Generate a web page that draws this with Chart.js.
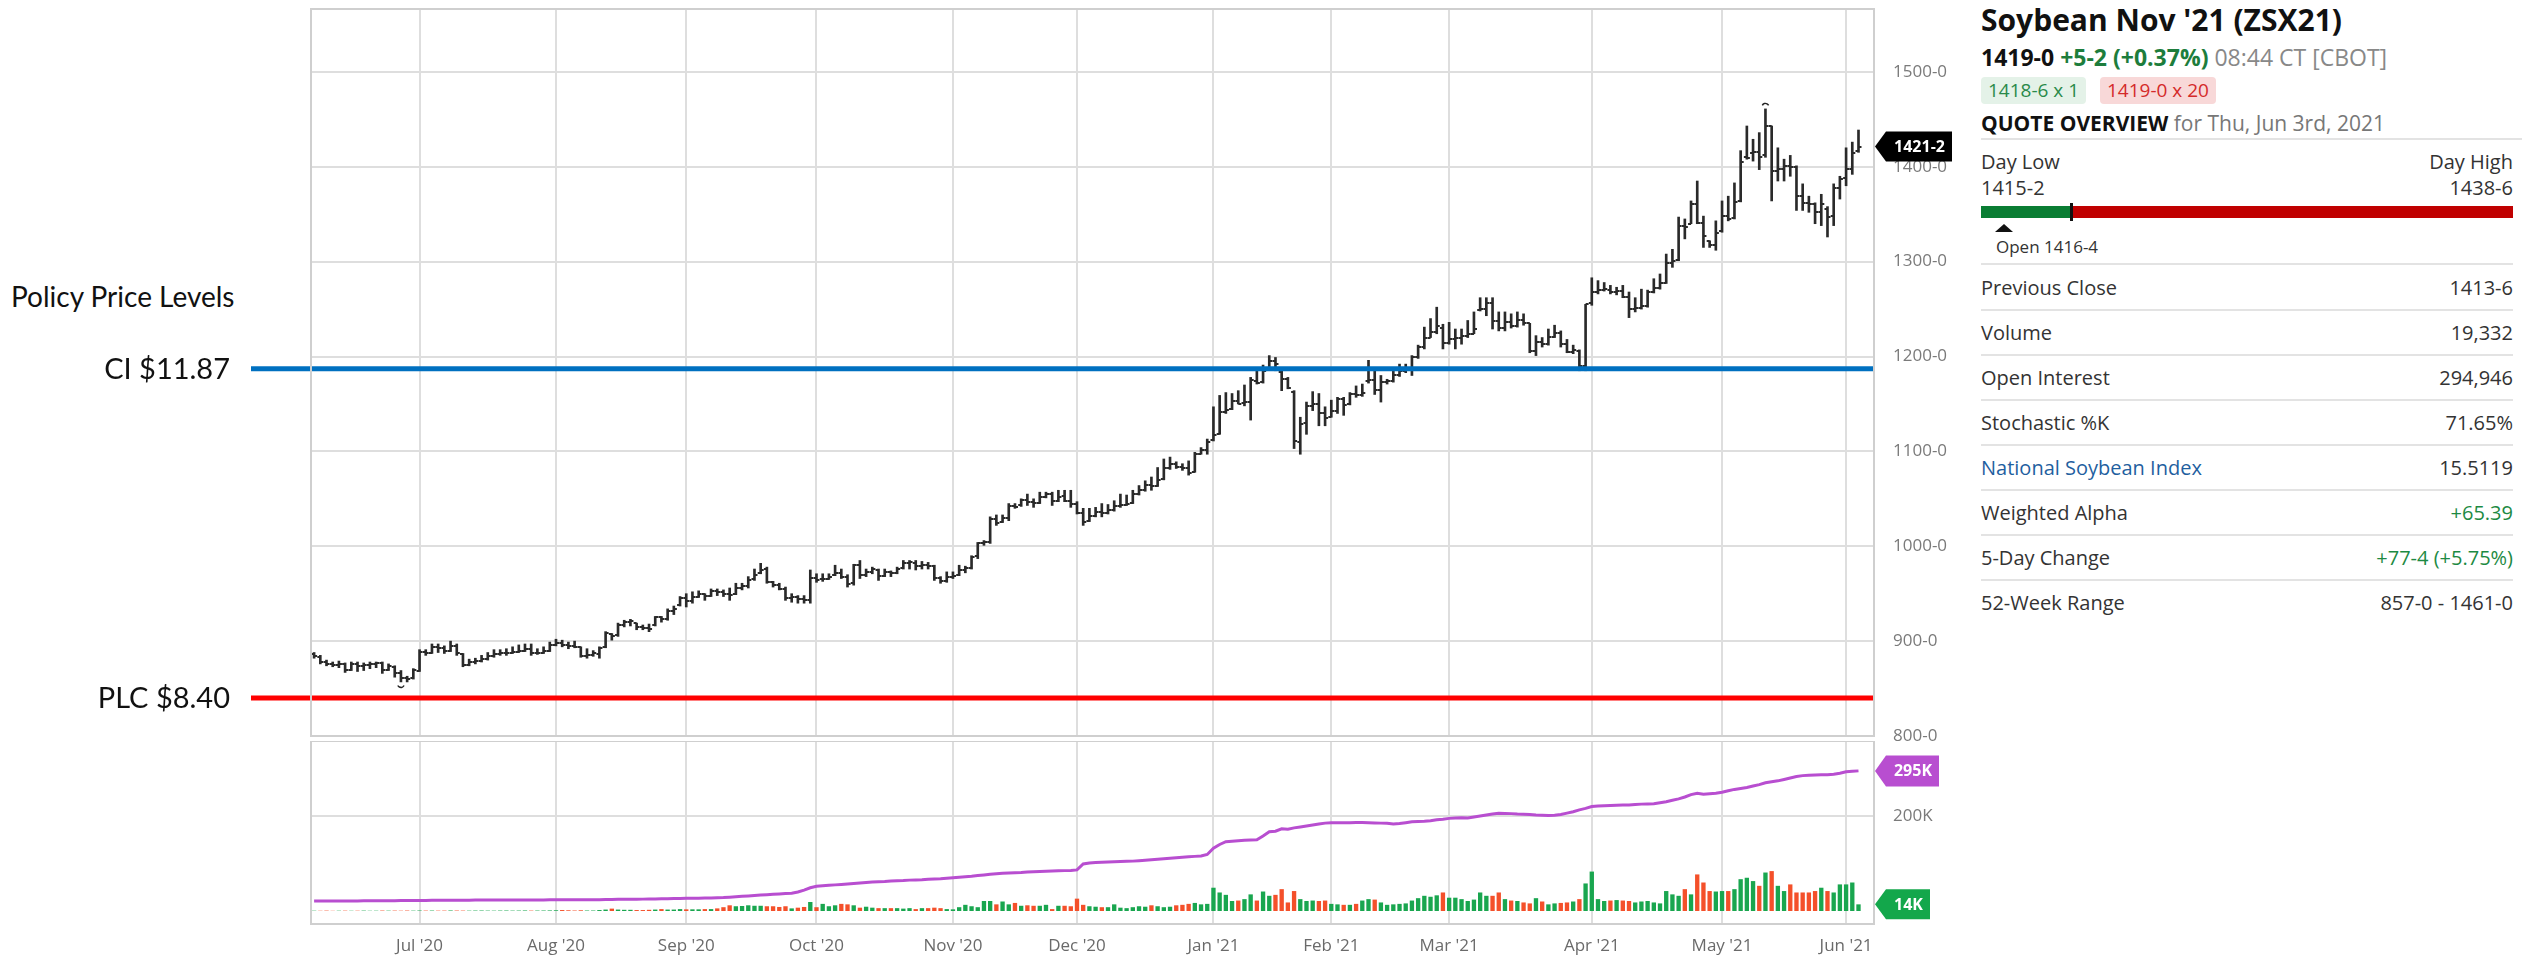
<!DOCTYPE html>
<html>
<head>
<meta charset="utf-8">
<script src="https://cdn.jsdelivr.net/npm/chart.js@4.4.1/dist/chart.umd.min.js"></script>
<style>
html, body { margin: 0; padding: 0; background: #fff; }
body { width: 2522px; height: 962px; position: relative; overflow: hidden; font-family: 'Open Sans', sans-serif; }
#priceBox { position: absolute; left: 0; top: 0; width: 1960px; height: 741px; }
#volBox { position: absolute; left: 0; top: 741px; width: 1960px; height: 221px; }
.policy-title { position: absolute; left: 11px; top: 279px; font: 28px Lato, sans-serif; color: #111; white-space: nowrap; }
#quote { position: absolute; left: 1981px; top: 0; width: 532px; color: #333; }
#quote div { position: absolute; white-space: nowrap; }
.title { top: 0px; left: 0; font-size: 30px; font-weight: 700; color: #111; line-height: 40px; }
.last { top: 42px; left: 0; font-size: 23px; line-height: 30px; }
.last b { color: #111; }
.last .chg { color: #1d7d3c; font-weight: 700; }
.last .time { color: #888; }
.badge { top: 77px; height: 27px; line-height: 27px; font-size: 19px; padding: 0 7px; border-radius: 4px; }
.bid { left: 0; background: #e4f2e8; color: #2a8a4a; }
.ask { left: 119px; background: #f8d8d8; color: #d42a2a; }
.qo { top: 108px; left: 0; font-size: 21px; line-height: 30px; color: #777; }
.qo b { color: #111; }
.sep { left: 0; width: 532px; height: 2px; background: #e3e3e3; }
.lbl { font-size: 20px; line-height: 30px; color: #333; }
.rt { right: 0; text-align: right; }
.bar-g { top: 206px; left: 0; width: 91px; height: 12px; background: #0a7d33; }
.bar-r { top: 206px; left: 91px; width: 441px; height: 12px; background: #c00000; }
.bar-m { top: 203px; left: 89px; width: 3px; height: 18px; background: #111; }
.tri { top: 224px; left: 14px; width: 0; height: 0; border-left: 9px solid transparent; border-right: 9px solid transparent; border-bottom: 8px solid #111; }
.open { top: 235px; left: 15px; font-size: 17px; line-height: 24px; color: #333; }
.row { left: 0; width: 532px; font-size: 20px; line-height: 30px; color: #333; }
.row span:last-child { position: absolute; right: 0; }
.blue { color: #1f5fa0; }
.green { color: #1d8a43; }
</style>
</head>
<body>
<div class="policy-title">Policy Price Levels</div>
<div id="priceBox"><canvas id="priceChart" width="1960" height="741"></canvas></div>
<div id="volBox"><canvas id="volChart" width="1960" height="221"></canvas></div>

<div id="quote">
  <div class="title">Soybean Nov '21 (ZSX21)</div>
  <div class="last"><b>1419-0</b> <span class="chg">+5-2 (+0.37%)</span> <span class="time">08:44 CT [CBOT]</span></div>
  <div class="badge bid">1418-6 x 1</div>
  <div class="badge ask">1419-0 x 20</div>
  <div class="qo"><b>QUOTE OVERVIEW</b> for Thu, Jun 3rd, 2021</div>
  <div class="sep" style="top:138px;width:541px"></div>
  <div class="lbl" style="top:147px;left:0">Day Low</div>
  <div class="lbl rt" style="top:147px">Day High</div>
  <div class="lbl" style="top:173px;left:0">1415-2</div>
  <div class="lbl rt" style="top:173px">1438-6</div>
  <div class="bar-g"></div>
  <div class="bar-r"></div>
  <div class="bar-m"></div>
  <div class="tri"></div>
  <div class="open">Open 1416-4</div>
  <div class="sep" style="top:263px"></div>
  <div class="row" style="top:273px"><span>Previous Close</span><span>1413-6</span></div>
  <div class="sep" style="top:309px"></div>
  <div class="row" style="top:318px"><span>Volume</span><span>19,332</span></div>
  <div class="sep" style="top:354px"></div>
  <div class="row" style="top:363px"><span>Open Interest</span><span>294,946</span></div>
  <div class="sep" style="top:399px"></div>
  <div class="row" style="top:408px"><span>Stochastic %K</span><span>71.65%</span></div>
  <div class="sep" style="top:444px"></div>
  <div class="row" style="top:453px"><span class="blue">National Soybean Index</span><span>15.5119</span></div>
  <div class="sep" style="top:489px"></div>
  <div class="row" style="top:498px"><span>Weighted Alpha</span><span class="green">+65.39</span></div>
  <div class="sep" style="top:534px"></div>
  <div class="row" style="top:543px"><span>5-Day Change</span><span class="green">+77-4 (+5.75%)</span></div>
  <div class="sep" style="top:579px"></div>
  <div class="row" style="top:588px"><span>52-Week Range</span><span>857-0 - 1461-0</span></div>
</div>

<script>
// trading sessions, grouped by month (last two June days are empty slots)
const months = ['2020-06', '2020-07', '2020-08', '2020-09', '2020-10', '2020-11', '2020-12',
                '2021-01', '2021-02', '2021-03', '2021-04', '2021-05', '2021-06'];
const monthDays = [
    [8, 9, 10, 11, 12, 15, 16, 17, 18, 19, 22, 23, 24, 25, 26, 29, 30],
    [1, 2, 6, 7, 8, 9, 10, 13, 14, 15, 16, 17, 20, 21, 22, 23, 24, 27, 28, 29, 30, 31],
    [3, 4, 5, 6, 7, 10, 11, 12, 13, 14, 17, 18, 19, 20, 21, 24, 25, 26, 27, 28, 31],
    [1, 2, 3, 4, 8, 9, 10, 11, 14, 15, 16, 17, 18, 21, 22, 23, 24, 25, 28, 29, 30],
    [1, 2, 5, 6, 7, 8, 9, 12, 13, 14, 15, 16, 19, 20, 21, 22, 23, 26, 27, 28, 29, 30],
    [2, 3, 4, 5, 6, 9, 10, 11, 12, 13, 16, 17, 18, 19, 20, 23, 24, 25, 27, 30],
    [1, 2, 3, 4, 7, 8, 9, 10, 11, 14, 15, 16, 17, 18, 21, 22, 23, 24, 28, 29, 30, 31],
    [4, 5, 6, 7, 8, 11, 12, 13, 14, 15, 19, 20, 21, 22, 25, 26, 27, 28, 29],
    [1, 2, 3, 4, 5, 8, 9, 10, 11, 12, 16, 17, 18, 19, 22, 23, 24, 25, 26],
    [1, 2, 3, 4, 5, 8, 9, 10, 11, 12, 15, 16, 17, 18, 19, 22, 23, 24, 25, 26, 29, 30, 31],
    [1, 5, 6, 7, 8, 9, 12, 13, 14, 15, 16, 19, 20, 21, 22, 23, 26, 27, 28, 29, 30],
    [3, 4, 5, 6, 7, 10, 11, 12, 13, 14, 17, 18, 19, 20, 21, 24, 25, 26, 27, 28],
    [1, 2, 3, 4, 7]
];
const monthNames = ['Jan', 'Feb', 'Mar', 'Apr', 'May', 'Jun', 'Jul', 'Aug', 'Sep', 'Oct', 'Nov', 'Dec'];

// daily bars [open, high, low, close], cents/bu
const ohlc = [
    // Jun 2020
    [886,888,882,884],[883,885,876,878],[878,880,874,876],[876,878,873,875],[875,879,872,876],
    [876,877,867,870],[870,878,869,876],[876,878,868,874],[874,877,869,875],[875,878,871,876],
    [876,878,872,877],[877,878,866,870],[870,876,869,874],[873,874,862,866],[866,869,857,861],
    [861,863,857,860],[861,871,860,870],
    // Jul
    [869,891,868,889],[889,891,885,887],[888,897,887,894],[894,897,888,893],[893,895,887,890],
    [890,900,889,895],[895,897,885,887],[886,887,873,875],[875,881,874,878],[878,882,876,879],
    [879,885,878,881],[881,888,880,884],[884,891,883,886],[886,891,885,887],[887,892,885,888],
    [888,894,887,889],[889,896,888,890],[890,897,889,892],[892,897,885,887],[887,892,886,888],
    [888,894,887,890],[890,899,889,896],
    // Aug
    [896,902,895,898],[898,901,894,896],[896,899,892,895],[895,900,893,894],[894,894,883,884],
    [884,892,882,885],[885,890,884,887],[886,894,882,893],[894,910,893,909],[908,908,901,905],
    [906,919,905,917],[917,922,915,920],[920,923,916,921],[919,919,912,915],[915,917,912,914],
    [914,918,910,913],[917,926,916,925],[925,926,920,923],[923,934,922,932],[932,937,928,934],
    [938,947,937,945],
    // Sep
    [945,950,936,942],[942,952,940,947],[947,953,946,950],[950,950,943,948],[948,955,947,953],
    [953,955,948,952],[952,954,947,950],[950,956,943,949],[950,961,949,956],[956,961,954,958],
    [958,968,956,964],[966,976,964,970],[972,982,971,975],[976,978,961,962],[962,963,957,959],
    [959,961,954,955],[955,957,943,945],[945,950,941,946],[946,948,940,944],[944,948,940,943],
    [943,975,940,967],
    // Oct
    [967,971,962,964],[965,971,963,966],[966,971,965,968],[970,980,969,972],[972,976,966,968],
    [968,970,957,960],[961,981,959,980],[980,985,966,970],[970,976,968,973],[973,978,971,976],
    [975,976,964,969],[969,976,968,973],[973,974,968,972],[972,978,971,976],[977,985,976,982],
    [982,985,976,983],[982,985,975,979],[979,984,976,980],[980,983,976,979],[979,980,964,967],
    [967,968,961,963],[963,973,962,968],
    // Nov
    [968,973,966,969],[970,980,969,975],[975,979,972,977],[977,990,976,989],[990,1004,987,1003],
    [1003,1006,1001,1004],[1004,1031,1003,1029],[1029,1033,1022,1025],[1026,1033,1025,1030],[1030,1045,1027,1042],
    [1042,1045,1040,1041],[1043,1050,1042,1049],[1049,1055,1043,1047],[1047,1050,1041,1046],[1046,1057,1045,1052],
    [1052,1057,1051,1055],[1055,1057,1043,1048],[1048,1059,1047,1052],[1053,1059,1047,1048],[1048,1059,1041,1045],
    // Dec
    [1045,1047,1034,1035],[1035,1040,1022,1026],[1027,1040,1026,1032],[1032,1041,1031,1036],[1036,1045,1031,1035],
    [1035,1044,1034,1038],[1038,1048,1037,1042],[1042,1055,1041,1044],[1044,1054,1043,1045],[1046,1059,1045,1055],
    [1055,1064,1054,1059],[1059,1069,1058,1065],[1065,1073,1059,1064],[1064,1083,1063,1070],[1071,1092,1070,1082],
    [1082,1094,1081,1087],[1087,1089,1082,1084],[1084,1087,1080,1082],[1083,1090,1075,1077],[1078,1099,1078,1097],
    [1097,1104,1097,1101],[1101,1113,1097,1110],
    // Jan 2021
    [1112,1147,1111,1117],[1118,1159,1118,1141],[1141,1162,1140,1144],[1145,1161,1144,1153],[1153,1164,1150,1150],
    [1151,1170,1148,1152],[1152,1178,1133,1175],[1174,1185,1171,1172],[1173,1191,1172,1185],[1188,1201,1187,1195],
    [1195,1199,1185,1192],[1184,1185,1164,1176],[1176,1178,1166,1167],[1163,1164,1103,1111],[1110,1136,1097,1129],
    [1130,1152,1118,1148],[1148,1163,1143,1150],[1150,1161,1127,1140],[1140,1147,1127,1135],
    // Feb
    [1136,1154,1136,1143],[1143,1157,1140,1155],[1155,1157,1138,1149],[1150,1162,1149,1160],[1160,1169,1157,1159],
    [1159,1171,1158,1162],[1174,1196,1172,1175],[1175,1187,1160,1165],[1165,1180,1152,1173],[1173,1176,1171,1174],
    [1174,1185,1173,1180],[1180,1192,1179,1185],[1185,1192,1183,1187],[1187,1201,1180,1199],[1199,1212,1198,1210],
    [1210,1231,1208,1220],[1220,1240,1220,1226],[1226,1252,1224,1232],[1230,1234,1208,1214],
    // Mar
    [1214,1236,1213,1218],[1218,1229,1208,1219],[1219,1229,1213,1222],[1222,1238,1220,1224],[1224,1247,1224,1229],
    [1249,1262,1248,1250],[1250,1262,1243,1256],[1256,1262,1229,1237],[1237,1247,1227,1230],[1230,1247,1227,1236],
    [1236,1245,1230,1232],[1232,1247,1231,1238],[1238,1245,1233,1235],[1235,1235,1204,1206],[1206,1222,1201,1215],
    [1215,1220,1210,1213],[1213,1229,1212,1221],[1221,1233,1220,1225],[1225,1227,1210,1213],[1213,1218,1204,1205],
    [1205,1212,1203,1207],[1206,1207,1185,1190],[1190,1255,1185,1255],
    // Apr
    [1256,1283,1254,1268],[1268,1280,1266,1270],[1270,1278,1269,1271],[1270,1275,1266,1268],[1268,1273,1265,1269],
    [1269,1275,1262,1263],[1263,1268,1241,1250],[1250,1262,1247,1251],[1251,1271,1250,1253],[1253,1270,1252,1268],
    [1268,1282,1267,1272],[1272,1287,1271,1278],[1278,1308,1277,1299],[1299,1313,1294,1301],[1302,1347,1301,1338],
    [1338,1345,1324,1336],[1340,1364,1340,1361],[1361,1385,1340,1341],[1341,1348,1315,1327],[1322,1322,1315,1318],
    [1318,1343,1312,1330],
    // May
    [1332,1364,1331,1348],[1348,1369,1343,1345],[1346,1383,1345,1363],[1364,1417,1363,1405],[1410,1443,1408,1409],
    [1415,1429,1406,1416],[1416,1436,1397,1410],[1412,1461,1410,1443],[1443,1443,1364,1396],[1396,1420,1385,1398],
    [1398,1408,1385,1401],[1401,1412,1390,1400],[1400,1401,1354,1369],[1369,1382,1354,1362],[1362,1369,1352,1361],
    [1361,1362,1340,1352],[1352,1371,1338,1361],[1355,1358,1326,1347],[1348,1382,1338,1378],[1378,1390,1366,1387],
    // Jun
    [1388,1420,1380,1398],[1398,1426,1392,1415],[1416.5,1438.75,1415.25,1421.25]
];

// daily volume, thousands of contracts
const volumeK = [
    0.6,0.5,0.8,0.4,0.6,0.7,0.5,0.6,0.8,0.5,0.6,0.9,0.7,0.8,0.6,0.9,0.7,
    1.0,0.8,0.9,0.7,0.8,1.1,0.9,0.8,0.7,0.9,1.0,0.8,0.7,0.9,1.0,0.8,0.9,1.1,0.8,0.9,1.0,1.2,
    1.5,2,1.5,1,1.5,1,1,2,3,5,3,2.5,2.5,2,2,2.5,3,4,3,3,4,
    3.5,3.5,3.5,4,4,5.5,8,12,10,10.5,12,11,11,10,10,8.5,10,5.5,7,8.5,19,
    8,15,10,12,15,14,12,7,9,7,6,6,6,6,5,6,4,6,6,7,6,4,
    3.5,8,13,10,8,21,21,14,20,14,17,11,12,11,11,13,4,11,11,10,
    26,13,10,9,8,8,14,7,6,8,10,9,12,10,8,9,12,13,15,17,14,15,
    49,39,34,21,22,25,35,22,41,32,34,46,18,42,25,21,22,21,22,
    15,14,13,13,15,22,25,24,18,13,14,15,16,22,27,32,30,33,39,
    28,28,25,21,24,39,32,32,39,25,22,21,18,16,27,20,14,16,17,18,20,25,58,
    83,25,21,22,23,22,21,18,20,21,18,16,42,35,32,46,35,77,60,42,41,
    42,42,46,67,70,63,53,81,84,53,42,56,39,39,39,42,49,42,39,56,
    56,60,14
];

// open interest, thousands of contracts
const openInterestK = [
    20.8,20.9,21.0,21.0,21.1,21.2,21.2,21.3,21.4,21.4,21.5,21.6,21.7,21.8,21.9,22.0,22.1,
    22.2,22.3,22.4,22.5,22.6,22.6,22.7,22.8,22.8,22.9,23.0,23.0,23.0,23.1,23.1,23.2,23.2,23.2,23.3,23.3,23.4,23.5,
    23.5,23.6,23.6,23.7,23.7,23.8,23.8,23.9,24.1,24.4,24.5,24.6,24.8,24.9,25.0,25.2,25.4,25.7,25.9,26.1,26.4,
    26.6,26.8,27.0,27.2,27.5,27.8,28.3,29.1,30.0,30.8,31.6,32.5,33.6,34.4,35.2,36.0,36.6,37.4,40,44,49,
    52,53,54,55,56,57,58,59,60,61,61.5,62,63,63.5,64,65,65.5,66,67,67.5,68,69,
    70,71,72,73,74.5,76,77.5,78.5,79.5,80,80.5,81,82,82.5,83,83.5,84,84.5,85,85.5,
    86.5,99,101,102,102.5,103,103.5,104,104.5,105,106,107,108,109,110,111,112,113,114,115,116,119,
    132,140,146,147,148,149,149.5,150,158,167,168,173,172,175,177,179,181,183,185,
    186,186,186,186,186.5,186.5,186,185.5,185,184.5,183,184,186,188,188.5,189,190,192,193,
    195,196,196.5,196,198,200,202,204,206,205.5,205,204,203.5,203,202,201.5,201,201.5,203,206,209,213,216,
    220,221,221.5,222,222.5,223,223,224,225,225.5,226,228,230,233,236,240,245,248,246,247,248,
    250,253,256,258,260,263,266,270,272,274,277,280,283,285,286,286.5,287,287,288,290,
    293,294,295
];

const priceTicks = [800, 900, 1000, 1100, 1200, 1300, 1400, 1500];
const volumeTicks = [200];
const policyLevels = [1187, 840];
const policyLabels = ['CI $11.87', 'PLC $8.40'];
const policyColors = ['#0070c0', '#ff0000'];

// build category labels
const labels = [];
const monthStarts = [];
months.forEach((m, i) => {
    if (i > 0) monthStarts.push(labels.length);
    monthDays[i].forEach(d => labels.push(m + '-' + String(d).padStart(2, '0')));
});

function monthLabel(s) {
    const parts = s.split('-');
    return monthNames[Number(parts[1]) - 1] + " '" + parts[0].slice(2);
}

function fmtEighths(v) {
    const whole = Math.floor(v);
    return whole + '-' + Math.round((v - whole) * 8);
}

const closes = ohlc.map(d => d[3]);
const highs = ohlc.map(d => d[1]);
const lows = ohlc.map(d => d[2]);
const volColors = volumeK.map((v, i) => {
    if (i === 0 || closes[i] > closes[i - 1]) return '#19a64f';
    if (closes[i] < closes[i - 1]) return '#f4502a';
    return '#2f55d4';
});

// small tick images for open (left) and close (right)
function tickImage(side) {
    const c = document.createElement('canvas');
    c.width = 10; c.height = 2;
    const g = c.getContext('2d');
    g.fillStyle = '#2a2a2a';
    if (side === 'left') g.fillRect(2, 0, 3, 2);
    else g.fillRect(5, 0, 3, 2);
    return c;
}

Chart.defaults.font.family = "'Open Sans', sans-serif";
Chart.defaults.animation = false;
Chart.defaults.events = [];

const gridColor = '#dedede';

const framePlugin = {
    id: 'frame',
    afterDraw(chart) {
        const { ctx, chartArea } = chart;
        ctx.save();
        ctx.strokeStyle = '#cfcfcf';
        ctx.lineWidth = 2;
        ctx.strokeRect(chartArea.left, chartArea.top, chartArea.right - chartArea.left, chartArea.bottom - chartArea.top);
        ctx.restore();
    }
};

function drawTag(ctx, x, y, text, bg, w, h) {
    ctx.save();
    ctx.fillStyle = bg;
    ctx.beginPath();
    ctx.moveTo(x, y);
    ctx.lineTo(x + 11, y - h / 2);
    ctx.lineTo(x + w, y - h / 2);
    ctx.lineTo(x + w, y + h / 2);
    ctx.lineTo(x + 11, y + h / 2);
    ctx.closePath();
    ctx.fill();
    ctx.fillStyle = '#fff';
    ctx.font = "bold 16px 'Open Sans'";
    ctx.textAlign = 'center';
    ctx.textBaseline = 'middle';
    ctx.fillText(text, x + 6 + w / 2, y + 1);
    ctx.restore();
}

const policyPlugin = {
    id: 'policyLines',
    afterDatasetsDraw(chart) {
        const { ctx, chartArea, scales } = chart;
        ctx.save();
        // 52-week high / low markers
        const hi = highs.indexOf(Math.max(...highs));
        const lo = lows.indexOf(Math.min(...lows));
        ctx.strokeStyle = '#222';
        ctx.lineWidth = 1.5;
        ctx.beginPath();
        ctx.arc(scales.x.getPixelForValue(hi), scales.y.getPixelForValue(highs[hi]) - 2, 3.5, 1.15 * Math.PI, 1.85 * Math.PI);
        ctx.stroke();
        ctx.beginPath();
        ctx.arc(scales.x.getPixelForValue(lo), scales.y.getPixelForValue(lows[lo]) + 2, 3.5, 0.15 * Math.PI, 0.85 * Math.PI);
        ctx.stroke();

        policyLevels.forEach((lvl, i) => {
            const y = scales.y.getPixelForValue(lvl);
            ctx.strokeStyle = policyColors[i];
            ctx.lineWidth = 5;
            ctx.beginPath();
            ctx.moveTo(chartArea.left - 60, y);
            ctx.lineTo(chartArea.right, y);
            ctx.stroke();
            ctx.fillStyle = '#111';
            ctx.font = '29px Lato';
            ctx.textAlign = 'right';
            ctx.textBaseline = 'middle';
            ctx.fillText(policyLabels[i], chartArea.left - 81, y + 1);
        });
        ctx.restore();
    },
    afterDraw(chart) {
        const last = closes[closes.length - 1];
        drawTag(chart.ctx, chart.chartArea.right + 1, chart.scales.y.getPixelForValue(last), fmtEighths(last), '#000', 77, 30);
    }
};

const volTagPlugin = {
    id: 'volTags',
    afterDraw(chart) {
        const y = chart.scales.y;
        const x = chart.chartArea.right + 1;
        const oi = openInterestK[openInterestK.length - 1];
        const vol = volumeK[volumeK.length - 1];
        drawTag(chart.ctx, x, y.getPixelForValue(oi), Math.round(oi) + 'K', '#b84ed0', 64, 31);
        drawTag(chart.ctx, x, y.getPixelForValue(vol), Math.round(vol) + 'K', '#13a74b', 55, 30);
    }
};

// drop the label-overflow padding Chart.js adds around axes
function noPad(s) {
    s.paddingTop = 0; s.paddingBottom = 0; s.paddingLeft = 0; s.paddingRight = 0;
}

function xScale(showLabels) {
    return {
        type: 'category',
        offset: true,
        grid: { color: gridColor, lineWidth: 2, offset: false, drawTicks: false },
        border: { display: false },
        afterBuildTicks: s => { s.ticks = monthStarts.map(v => ({ value: v })); },
        afterFit: s => { s.height = showLabels ? 38 : 0; noPad(s); },
        ticks: {
            display: showLabels,
            autoSkip: false,
            maxRotation: 0,
            padding: 12,
            color: '#6a6a6a',
            font: { size: 17 },
            callback: v => monthLabel(labels[v])
        }
    };
}

new Chart(document.getElementById('priceChart'), {
    type: 'bar',
    data: {
        labels: labels,
        datasets: [
            {
                label: 'High-Low',
                data: ohlc.map(d => [d[2], d[1]]),
                backgroundColor: '#2a2a2a',
                barThickness: 2,
                grouped: false
            },
            {
                type: 'line',
                label: 'Open',
                data: ohlc.map(d => d[0]),
                showLine: false,
                pointStyle: tickImage('left')
            },
            {
                type: 'line',
                label: 'Close',
                data: closes,
                showLine: false,
                pointStyle: tickImage('right')
            }
        ]
    },
    options: {
        responsive: false,
        layout: { padding: { left: 311, right: 0, top: 9, bottom: 4 } },
        plugins: { legend: { display: false }, tooltip: { enabled: false } },
        scales: {
            x: xScale(false),
            y: {
                position: 'right',
                min: 800,
                max: 800 + 728 / 0.95,
                grid: { color: gridColor, lineWidth: 2, drawTicks: false },
                border: { display: false },
                afterBuildTicks: s => { s.ticks = priceTicks.map(v => ({ value: v })); },
                afterFit: s => { s.width = 86; noPad(s); },
                ticks: { padding: 19, color: '#7a7a7a', font: { size: 17 }, callback: v => fmtEighths(v) }
            }
        }
    },
    plugins: [framePlugin, policyPlugin]
});

new Chart(document.getElementById('volChart'), {
    type: 'bar',
    data: {
        labels: labels,
        datasets: [
            {
                type: 'line',
                label: 'Open Interest',
                data: openInterestK,
                borderColor: '#b84ed0',
                borderWidth: 3,
                pointRadius: 0,
                tension: 0
            },
            {
                label: 'Volume',
                data: volumeK,
                backgroundColor: volColors,
                barPercentage: 0.7,
                categoryPercentage: 1
            }
        ]
    },
    options: {
        responsive: false,
        layout: { padding: { left: 311, right: 0, top: 0, bottom: 0 } },
        plugins: { legend: { display: false }, tooltip: { enabled: false } },
        scales: {
            x: xScale(true),
            y: {
                position: 'right',
                min: -13 / 0.475,
                max: -13 / 0.475 + 183 / 0.475,
                grid: { color: gridColor, lineWidth: 2, drawTicks: false },
                border: { display: false },
                afterBuildTicks: s => { s.ticks = volumeTicks.map(v => ({ value: v })); },
                afterFit: s => { s.width = 86; noPad(s); },
                ticks: { padding: 19, color: '#7a7a7a', font: { size: 17 }, callback: v => v + 'K' }
            }
        }
    },
    plugins: [framePlugin, volTagPlugin]
});
</script>
</body>
</html>
